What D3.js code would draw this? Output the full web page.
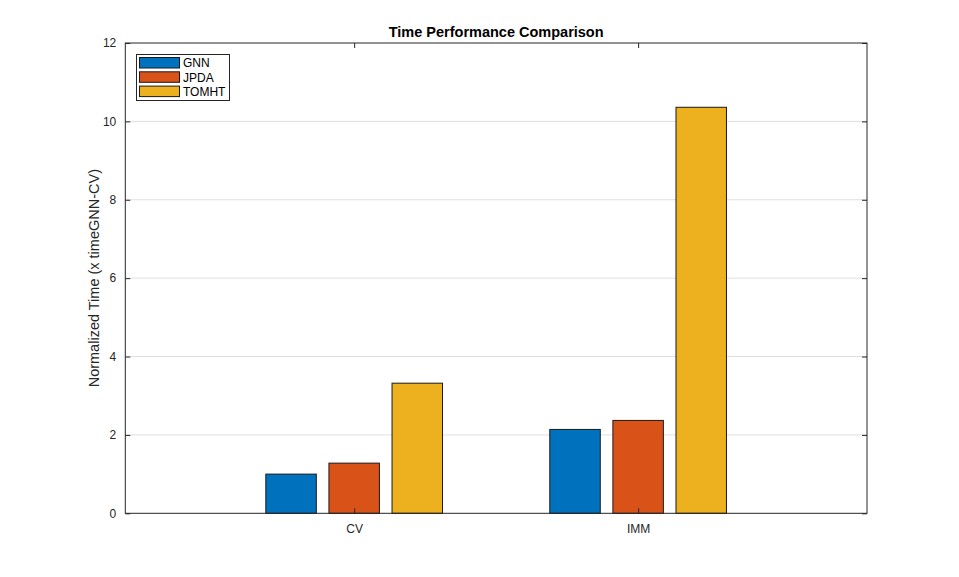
<!DOCTYPE html>
<html><head><meta charset="utf-8">
<script src="https://cdn.jsdelivr.net/npm/d3@7"></script>
<style>body{margin:0;background:#fff;} svg{display:block;font-family:Arial,"Liberation Sans",sans-serif;}</style>
</head><body>
<script>
const categories = ["CV", "IMM"];
const seriesNames = ["GNN", "JPDA", "TOMHT"];
const GNN = [1.0, 2.14];
const JPDA = [1.28, 2.37];
const TOMHT = [3.32, 10.36];
const seriesValues = [GNN, JPDA, TOMHT];
const colors = ["#0072BD", "#D95319", "#EDB120"];
const yTicks = [0, 2, 4, 6, 8, 10, 12];

const W = 959, H = 577;
const m = {l: 125.3, r: 867, t: 43, b: 513.3};
const svg = d3.select("body").append("svg").attr("width", W).attr("height", H);

const x = d3.scaleLinear().domain([0.194, 2.806]).range([m.l, m.r]);
const y = d3.scaleLinear().domain([0, 12]).range([m.b, m.t]);
const axisColor = "#262626";

// grid
svg.append("g").selectAll("line").data(yTicks.filter(d => d > 0 && d < 12)).join("line")
  .attr("x1", m.l).attr("x2", m.r).attr("y1", d => y(d)).attr("y2", d => y(d))
  .attr("stroke", "#dfdfdf").attr("stroke-width", 1);

// bars
const groupW = 3 / 4.5, barW = groupW / 3 * 0.8, step = groupW / 3;
seriesValues.forEach((vals, si) => {
  svg.append("g").selectAll("rect").data(vals).join("rect")
    .attr("x", (d, i) => x(i + 1 + (si - 1) * step - barW / 2))
    .attr("width", (d, i) => x(i + 1 + barW / 2) - x(i + 1 - barW / 2))
    .attr("y", d => y(d)).attr("height", d => y(0) - y(d))
    .attr("fill", colors[si]).attr("stroke", "#1a1a1a").attr("stroke-width", 1);
});

// axes
const yAxisL = d3.axisLeft(y).tickValues(yTicks).tickSize(-5).tickPadding(9);
const yAxisR = d3.axisRight(y).tickValues(yTicks).tickSize(-5).tickFormat("");
const xAxisB = d3.axisBottom(x).tickValues([1, 2]).tickFormat((d, i) => categories[i]).tickSize(-5).tickPadding(11);
const xAxisT = d3.axisTop(x).tickValues([1, 2]).tickSize(-5).tickFormat("");
function style(g) {
  g.select(".domain").remove();
  g.selectAll("line").attr("stroke", axisColor);
  g.selectAll("text").attr("fill", axisColor).attr("font-size", 12).attr("font-family", "Arial, 'Liberation Sans', sans-serif");
}
svg.append("g").attr("transform", `translate(${m.l},0)`).call(yAxisL).call(style);
svg.append("g").attr("transform", `translate(${m.r},0)`).call(yAxisR).call(style);
svg.append("g").attr("transform", `translate(0,${m.b})`).call(xAxisB).call(style);
svg.append("g").attr("transform", `translate(0,${m.t})`).call(xAxisT).call(style);
svg.append("rect").attr("x", m.l).attr("y", m.t).attr("width", m.r - m.l).attr("height", m.b - m.t)
  .attr("fill", "none").attr("stroke", axisColor).attr("stroke-width", 1);

// title & label
svg.append("text").attr("x", (m.l + m.r) / 2).attr("y", 37).attr("text-anchor", "middle")
  .attr("font-size", 14.5).attr("font-weight", "bold").attr("fill", "#000").text("Time Performance Comparison");
svg.append("text").attr("transform", `translate(98.5,${(m.t + m.b) / 2}) rotate(-90)`).attr("text-anchor", "middle")
  .attr("font-size", 14.5).attr("fill", axisColor).text("Normalized Time (x timeGNN-CV)");

// legend
const lg = svg.append("g");
lg.append("rect").attr("x", 136.5).attr("y", 54.5).attr("width", 93).attr("height", 46)
  .attr("fill", "#fff").attr("stroke", axisColor).attr("stroke-width", 1);
seriesNames.forEach((n, i) => {
  lg.append("rect").attr("x", 139.5).attr("y", 57.5 + i * 14.3).attr("width", 40).attr("height", 10.5)
    .attr("fill", colors[i]).attr("stroke", "#1a1a1a");
  lg.append("text").attr("x", 183).attr("y", 67.2 + i * 14.3).attr("font-size", 12).attr("fill", "#000").text(n);
});
</script>
</body></html>
